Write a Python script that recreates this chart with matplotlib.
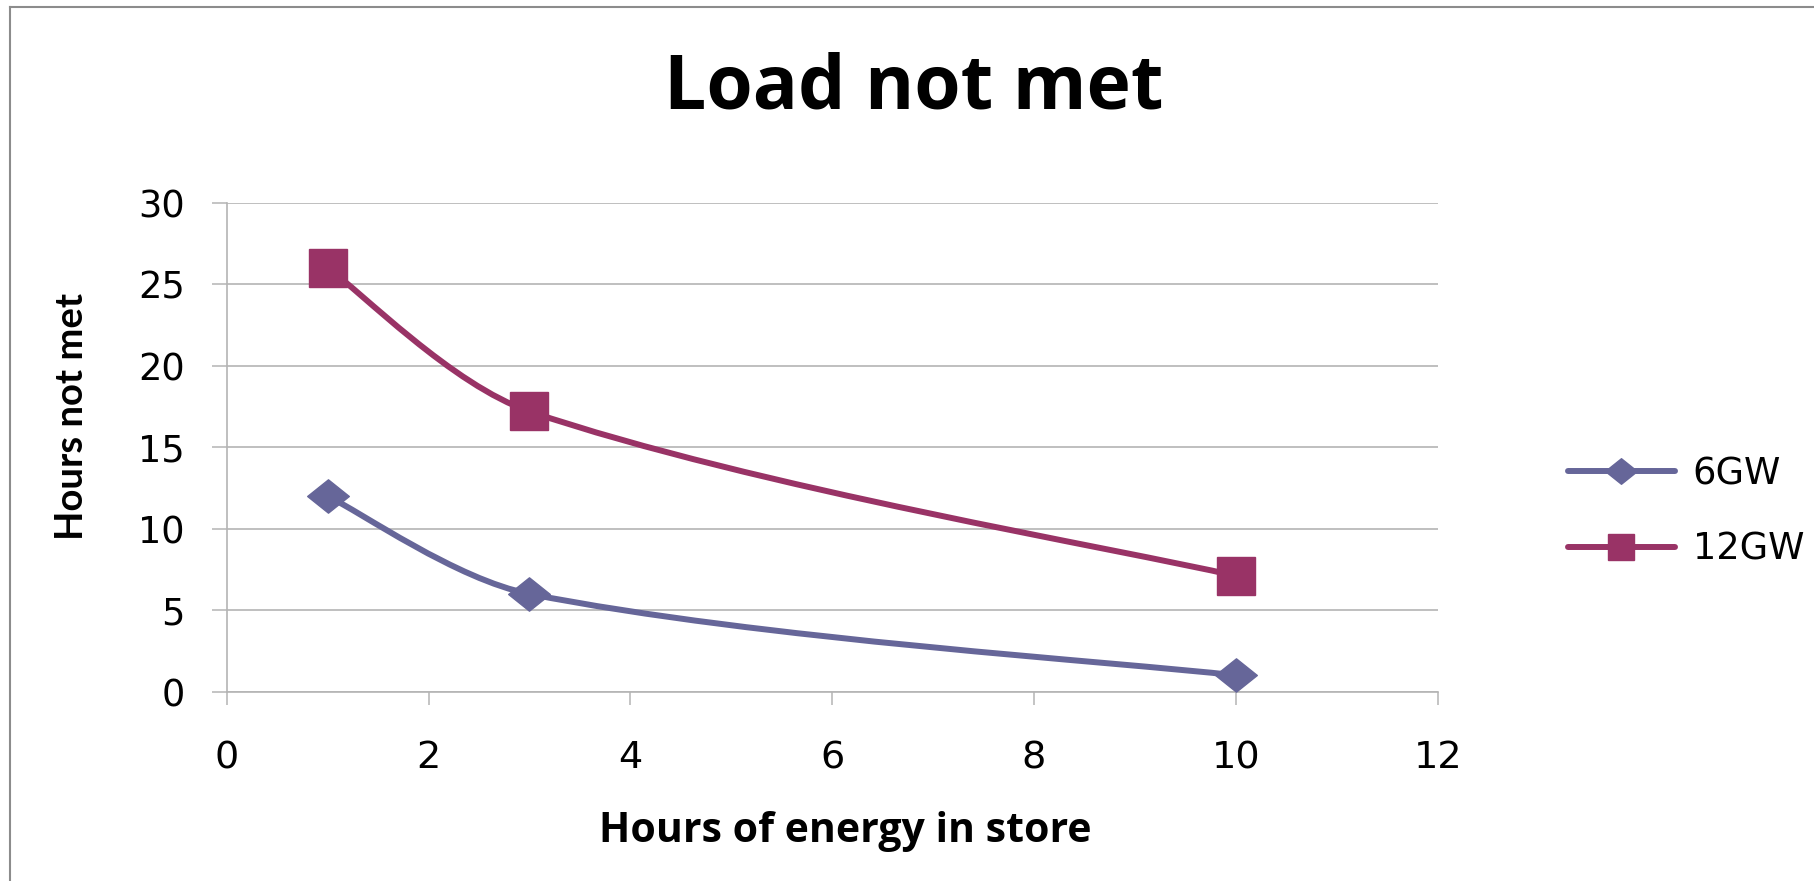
import matplotlib
matplotlib.use("Agg")
import matplotlib.pyplot as plt
from matplotlib.path import Path
from matplotlib.patches import PathPatch
from matplotlib.lines import Line2D
import numpy as np

# ---- data ----
hours_store = [1, 3, 10]
series_names = ["6GW", "12GW"]
load_6gw = [12, 6, 1]
load_12gw = [26, 17.2, 7.1]
x_ticks = [0, 2, 4, 6, 8, 10, 12]
y_ticks = [0, 5, 10, 15, 20, 25, 30]
title = "Load not met"
x_label = "Hours of energy in store"
y_label = "Hours not met"

col_6 = "#666699"
col_12 = "#993366"
grid_col = "#b4b4b4"

W, H = 1814, 881
fig = plt.figure(figsize=(W / 100, H / 100), dpi=100)
fig.patch.set_facecolor("white")

ax = fig.add_axes([226.7 / W, 1 - 691.7 / H, (1437.7 - 226.7) / W, (691.7 - 202.7) / H])
ax.set_xlim(0, 12)
ax.set_ylim(0, 30)
ax.set_xticks(x_ticks)
ax.set_yticks(y_ticks)
ax.set_xticklabels([str(t) for t in x_ticks], fontsize=27.5, family="DejaVu Sans")
ax.set_yticklabels([str(t) for t in y_ticks], fontsize=26.5, family="DejaVu Sans")
ax.tick_params(axis="x", direction="out", length=9, width=1.1, color=grid_col, pad=26)
ax.tick_params(axis="y", direction="out", length=11, width=1.1, color=grid_col, pad=19)
ax.grid(axis="y", color=grid_col, linewidth=1.2)
ax.set_axisbelow(True)
for s in ["top", "right"]:
    ax.spines[s].set_visible(False)
for s in ["left", "bottom"]:
    ax.spines[s].set_color(grid_col)
    ax.spines[s].set_linewidth(1.2)


def smooth_path(xs, ys):
    # smoothed line (like a spreadsheet "smoothed line"), built in display space
    pts = ax.transData.transform(np.column_stack([xs, ys]).astype(float))
    n = len(pts)
    d = [np.hypot(*(pts[i + 1] - pts[i])) for i in range(n - 1)]
    tang = []
    for i in range(n):
        if i == 0:
            tang.append((pts[1] - pts[0]) / d[0] * 0.5)
        elif i == n - 1:
            tang.append((pts[-1] - pts[-2]) / d[-1] * 0.5)
        else:
            tang.append((pts[i + 1] - pts[i - 1]) / (d[i - 1] + d[i]))
    verts = [pts[0]]
    codes = [Path.MOVETO]
    for i in range(n - 1):
        c1 = pts[i] + tang[i] * d[i] / 3.0
        c2 = pts[i + 1] - tang[i + 1] * d[i] / 3.0
        verts += [c1, c2, pts[i + 1]]
        codes += [Path.CURVE4] * 3
    verts = ax.transData.inverted().transform(np.array(verts))
    return Path(verts, codes)


diamond = Path([(-1, 0), (0, 0.8), (1, 0), (0, -0.8), (-1, 0)],
               [Path.MOVETO, Path.LINETO, Path.LINETO, Path.LINETO, Path.CLOSEPOLY])

lw = 4.3
for ys, col, mk, ms in [(load_6gw, col_6, diamond, 30), (load_12gw, col_12, "s", 27)]:
    patch = PathPatch(smooth_path(hours_store, ys), facecolor="none", edgecolor=col,
                      linewidth=lw, capstyle="round", joinstyle="round", zorder=3)
    ax.add_patch(patch)
    ax.plot(hours_store, ys, linestyle="none", marker=mk, markersize=ms,
            markerfacecolor=col, markeredgecolor=col, zorder=4, clip_on=False)

handles = [
    Line2D([], [], color=col_6, linewidth=lw, marker=diamond, markersize=23,
           solid_capstyle="round"),
    Line2D([], [], color=col_12, linewidth=lw, marker="s", markersize=19,
           solid_capstyle="round"),
]
leg = fig.legend(handles, series_names, loc="center left",
                 bbox_to_anchor=(1535 / W, 1 - 511.5 / H), frameon=False,
                 prop={"family": "DejaVu Sans", "size": 26.5},
                 handlelength=2.9, handletextpad=0.48, labelspacing=1.05)

fig.text(914 / W, 1 - 89 / H, title, ha="center", va="center",
         fontsize=54, fontweight="bold", family=["Open Sans", "DejaVu Sans"])
fig.text(845 / W, 1 - 831 / H, x_label, ha="center", va="center",
         fontsize=29.5, fontweight="bold", family=["Open Sans", "DejaVu Sans"])
fig.text(72 / W, 1 - 416 / H, y_label, ha="center", va="center", rotation=90,
         fontsize=27.5, fontweight="bold", family=["Lato", "DejaVu Sans"])

# chart border (top and left visible)
border_col = "#8c8c8c"
fig.add_artist(Line2D([10 / W, 1], [1 - 7 / H, 1 - 7 / H], color=border_col, linewidth=1.5,
                      transform=fig.transFigure))
fig.add_artist(Line2D([10 / W, 10 / W], [0, 1 - 7 / H], color=border_col, linewidth=1.5,
                      transform=fig.transFigure))

fig.savefig("out.png", dpi=100)
